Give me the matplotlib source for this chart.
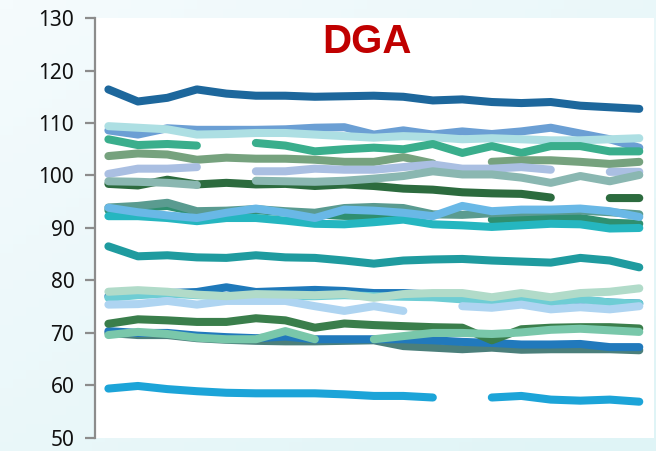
import numpy as np
import matplotlib
matplotlib.use('Agg')
import matplotlib.pyplot as plt
from matplotlib.colors import LinearSegmentedColormap

nan = np.nan
x = list(range(1, 20))

# series (nan = gap)
s_dark_blue = [116.4, 114.1, 114.8, 116.4, 115.6, 115.2, 115.2, 115.0, 115.1, 115.2, 115.0, 114.3, 114.5, 114.0, 113.8, 114.0, 113.3, 113.0, 112.7]
s_mid_blue = [108.6, 107.8, 109.0, 108.7, 108.7, 108.7, 108.8, 109.1, 109.2, 107.8, 108.6, 107.8, 108.4, 107.9, 108.4, 109.1, 108.0, 106.9, 105.3]
s_light_cyan = [109.4, 109.1, 108.8, 107.8, 107.9, 108.1, 108.1, 107.8, 107.5, 107.2, 107.5, 107.3, 106.9, 107.1, 106.9, 106.7, 106.7, 106.9, 107.1]
s_green_teal = [106.9, 105.8, 106.0, 105.7, nan, 106.2, 105.7, 104.6, 105.0, 105.3, 105.0, 106.0, 104.3, 105.6, 104.3, 105.6, 105.6, 104.6, 104.6]
s_sage = [103.7, 104.2, 104.0, 103.0, 103.4, 103.2, 103.2, 103.0, 102.6, 102.6, 103.5, 102.3, nan, 102.6, 102.9, 102.9, 102.6, 102.2, 102.6]
s_lavender = [100.3, 101.3, 101.3, 101.6, nan, 100.8, 100.8, 101.3, 101.1, 101.1, 101.6, 102.1, 101.3, 101.3, 101.6, 101.1, nan, 100.7, 100.7]
s_dark_green = [98.4, 98.1, 99.2, 98.3, 98.6, 98.3, 98.4, 98.0, 98.3, 98.0, 97.5, 97.3, 96.8, 96.6, 96.5, 95.8, nan, 95.7, 95.7]
s_gray_teal = [98.9, 98.8, 98.6, 98.2, nan, 99.0, 98.9, 98.8, 99.0, 99.4, 99.9, 100.8, 100.2, 100.2, 99.6, 98.6, 99.9, 98.9, 100.1]
s_green_mid = [93.4, 93.8, 94.2, 93.0, 93.0, 93.4, 93.0, 92.6, 92.3, 92.3, 92.0, nan, nan, 91.6, 91.9, 91.9, 91.9, 91.0, 90.8]
s_teal_gray = [93.9, 94.2, 94.8, 93.2, 93.3, 93.6, 93.2, 92.9, 93.8, 94.0, 93.8, 92.6, 92.5, 92.8, 93.0, 93.2, 93.3, 93.0, 92.6]
s_turquoise = [92.25, 92.25, 91.9, 91.3, 91.9, 91.9, 91.4, 90.8, 90.7, 91.1, 91.6, 90.7, 90.5, 90.2, 90.5, 90.8, 90.7, 89.9, 90.0]
s_light_blue = [93.85, 93.0, 92.4, 91.9, 92.9, 93.7, 92.9, 91.9, 93.5, 93.3, 92.9, 92.25, 94.2, 93.2, 93.5, 93.5, 93.7, 93.2, 92.1]
s_dark_teal = [86.5, 84.6, 84.8, 84.4, 84.3, 84.8, 84.4, 84.3, 83.8, 83.2, 83.8, 84.0, 84.1, 83.8, 83.6, 83.4, 84.3, 83.8, 82.5]
s_blue_77 = [77.0, 77.8, 77.6, 77.8, 78.7, 77.8, 78.0, 78.2, 78.0, 77.6, 77.6, 77.3, 77.0, 76.3, 76.8, 75.6, 76.3, 75.8, 75.6]
s_light_turq = [76.7, 77.2, 77.5, 77.2, 77.0, 76.8, 77.0, 77.0, 77.2, 77.0, 76.9, 76.8, 76.4, 75.8, 76.4, 75.9, 76.4, 75.8, 75.6]
s_light_sky = [75.4, 75.5, 76.1, 75.4, 76.1, 76.1, 76.1, 75.1, 74.2, 75.1, 74.2, nan, 75.1, 74.8, 75.4, 74.5, 74.9, 74.5, 75.1]
s_pale_mint = [77.85, 78.15, 77.85, 77.3, 77.0, 77.4, 77.3, 77.2, 77.4, 76.7, 77.4, 77.6, 77.6, 76.8, 77.6, 76.8, 77.6, 77.85, 78.5]
s_gray_teal_dk = [70.0, 69.6, 69.6, 69.0, 68.7, 68.5, 68.4, 68.4, 68.5, 68.6, 67.5, 67.2, 66.9, 67.2, 66.8, 66.9, 66.9, 66.9, 66.7]
s_blue_70 = [70.35, 70.0, 70.0, 69.5, 69.2, 69.0, 69.3, 68.8, 68.8, 68.8, 68.8, 68.6, 68.3, 68.1, 67.8, 67.8, 67.9, 67.3, 67.3]
s_dark_green2 = [71.75, 72.6, 72.4, 72.1, 72.1, 72.8, 72.4, 71.0, 71.8, 71.5, 71.3, 71.1, 71.0, 68.6, 70.7, 71.0, 71.1, 71.1, 70.85]
s_mint = [69.6, 70.2, 69.8, 69.1, 68.8, 68.8, 70.35, 68.8, nan, 68.8, 69.4, 70.0, 70.0, 69.8, 70.1, 70.6, 70.8, 70.5, 70.2]
s_bright_blue = [59.4, 59.9, 59.3, 58.9, 58.6, 58.5, 58.5, 58.5, 58.3, 58.0, 58.0, 57.7, nan, 57.7, 58.0, 57.3, 57.1, 57.3, 56.9]

y_ticks = [50, 60, 70, 80, 90, 100, 110, 120, 130]

series = [
    (s_dark_blue, '#1d679c'),
    (s_mid_blue, '#6b9fd4'),
    (s_light_cyan, '#addfe3'),
    (s_green_teal, '#3aae8c'),
    (s_sage, '#76a27e'),
    (s_lavender, '#aabfe2'),
    (s_dark_green, '#2c6b3e'),
    (s_gray_teal, '#8ab7b1'),
    (s_green_mid, '#2f8f70'),
    (s_teal_gray, '#5a9b90'),
    (s_turquoise, '#25b6c0'),
    (s_light_blue, '#69b8e6'),
    (s_dark_teal, '#1f9b9f'),
    (s_blue_77, '#1f79ba'),
    (s_light_turq, '#6ecdd4'),
    (s_light_sky, '#aed4f1'),
    (s_pale_mint, '#b1dbc9'),
    (s_gray_teal_dk, '#4b7f7b'),
    (s_blue_70, '#2179bc'),
    (s_dark_green2, '#3a7e4b'),
    (s_mint, '#79c7aa'),
    (s_bright_blue, '#1ca4d8'),
]

plt.rcParams['font.family'] = ['Noto Sans', 'DejaVu Sans']

fig = plt.figure(figsize=(6.56, 4.51), dpi=100)

# soft gradient behind everything
bg = fig.add_axes([0, 0, 1, 1], zorder=-10)
cmap = LinearSegmentedColormap.from_list('bg', ['#f5fbfd', '#dff4f6'])
gx, gy = np.meshgrid(np.linspace(0, 1, 50), np.linspace(0, 1, 50))
bg.imshow(gx * 0.5 + gy * 0.5, cmap=cmap, aspect='auto', extent=[0, 1, 0, 1], origin='upper')
bg.axis('off')

ax = fig.add_axes([0.145, 0.029, 0.852, 0.931])
ax.set_facecolor('white')

for vals, col in series:
    ax.plot(x, vals, color=col, lw=5.8, solid_capstyle='round', solid_joinstyle='round')

ax.set_xlim(0.55, 19.5)
ax.set_ylim(50, 130)
ax.set_yticks(y_ticks)
ax.set_xticks([])
for s in ['top', 'right', 'bottom']:
    ax.spines[s].set_visible(False)
ax.spines['left'].set_color('#8c8c8c')
ax.spines['left'].set_linewidth(1.6)
ax.tick_params(axis='y', direction='out', length=7, width=1.6, color='#8c8c8c',
               labelsize=15, labelcolor='#111111', pad=8)

ax.text(0.487, 0.943, 'DGA', transform=ax.transAxes, ha='center', va='center',
        fontsize=29, fontweight='bold', color='#c00000',
        family=['Liberation Sans', 'DejaVu Sans'])

fig.savefig('out.png', dpi=100)
